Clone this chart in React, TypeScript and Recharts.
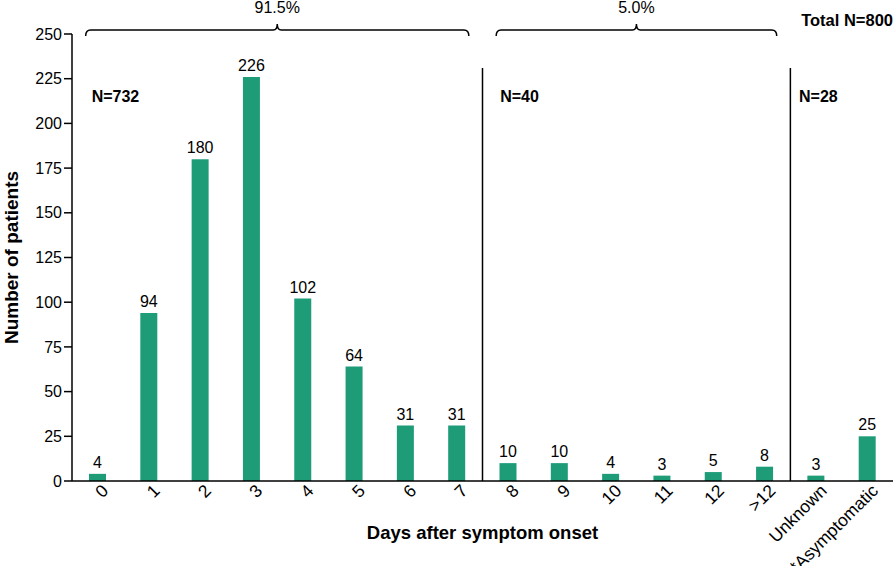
import React from 'react';
import { BarChart, Bar, XAxis, YAxis, LabelList, ReferenceLine, ReferenceDot } from 'recharts';

const CATEGORIES = ['0', '1', '2', '3', '4', '5', '6', '7', '8', '9', '10', '11', '12', '>12', 'Unknown', '*Asymptomatic'];
const PATIENTS = [4, 94, 180, 226, 102, 64, 31, 31, 10, 10, 4, 3, 5, 8, 3, 25];
const Y_TICKS = [0, 25, 50, 75, 100, 125, 150, 175, 200, 225, 250];

// group annotations
const GROUP_START = ['0', '8', 'Unknown'];
const GROUP_N = ['N=732', 'N=40', 'N=28'];
const SEPARATORS = ['8', 'Unknown'];
const BRACE_FROM = ['0', '8'];
const BRACE_TO = ['7', '>12'];
const BRACE_PCT = ['91.5%', '5.0%'];
const TOTAL_LABEL = 'Total N=800';

const data = CATEGORIES.map((day, i) => ({ day, patients: PATIENTS[i] }));

const FONT = '"Liberation Sans", Arial, Helvetica, sans-serif';
const GREEN = '#1e9c78';
const N_DX = [-6, -8, -17];

const XTick = (props: any) => {
  const { x, y, payload } = props;
  return (
    <g transform={`translate(${x + 3},${y - 6}) rotate(-45)`}>
      <text textAnchor="end" dy="0.71em" fontSize={17.5} fontFamily={FONT} fill="#000">
        {payload.value}
      </text>
    </g>
  );
};

const makeBrace = (pct: string) => (props: any) => {
  const { x1, y1, x2 } = props;
  const l = x1 - 12;
  const r = x2 + 12;
  const m = (l + r) / 2;
  const y = y1;
  const d = `M${l},${y + 6} Q${l},${y} ${l + 5},${y} L${m - 4},${y} Q${m},${y} ${m},${y - 6} Q${m},${y} ${m + 4},${y} L${r - 5},${y} Q${r},${y} ${r},${y + 6}`;
  return (
    <g>
      <path d={d} fill="none" stroke="#000" strokeWidth={1.5} />
      <text x={m} y={y - 17} textAnchor="middle" fontSize={16} fontFamily={FONT} fill="#000">
        {pct}
      </text>
    </g>
  );
};

const makeNLabel = (label: string, dx: number) => (props: any) => (
  <text x={props.cx + dx} y={props.cy} dy="0.36em" fontSize={16} fontWeight={700} fontFamily={FONT} fill="#000">
    {label}
  </text>
);

export default function App() {
  return (
    <div style={{ position: 'absolute', left: 0, top: 0, width: 894, height: 566, background: '#fff' }}>
      <BarChart width={894} height={566} data={data} margin={{ top: 34, right: 1, left: 0, bottom: 0 }}>
        <XAxis
          dataKey="day"
          height={85}
          tickLine={false}
          tick={<XTick />}
          interval={0}
          axisLine={{ stroke: '#000', strokeWidth: 1.5 }}
          label={{ value: 'Days after symptom onset', position: 'insideBottom', offset: 27, style: { fontFamily: FONT, fontSize: 18.5, fontWeight: 700, fill: '#000' } }}
        />
        <YAxis
          width={72}
          domain={[0, 250]}
          ticks={Y_TICKS}
          interval={0}
          tickSize={8}
          tickMargin={2}
          tick={{ fontSize: 16, fontFamily: FONT, fill: '#000' }}
          tickLine={{ stroke: '#000', strokeWidth: 1.5 }}
          axisLine={{ stroke: '#000', strokeWidth: 1.5 }}
          label={{ value: 'Number of patients', angle: -90, position: 'insideLeft', offset: 11, style: { textAnchor: 'middle', fontFamily: FONT, fontSize: 19, fontWeight: 700, fill: '#000' } }}
        />
        <Bar dataKey="patients" fill={GREEN} barSize={17} isAnimationActive={false}>
          <LabelList dataKey="patients" position="top" offset={6} style={{ fontFamily: FONT, fontSize: 16, fill: '#000' }} />
        </Bar>
        {SEPARATORS.map((s) => (
          <ReferenceLine
            key={s}
            segment={[{ x: s, y: 0 }, { x: s, y: 231 }]}
            position="start"
            stroke="#000"
            strokeWidth={1.5}
          />
        ))}
        {BRACE_FROM.map((from, i) => (
          <ReferenceLine
            key={from}
            segment={[{ x: from, y: 252.2 }, { x: BRACE_TO[i], y: 252.2 }]}
            ifOverflow="visible"
            shape={makeBrace(BRACE_PCT[i])}
          />
        ))}
        {GROUP_START.map((g, i) => (
          <ReferenceDot key={g} x={g} y={215} r={0} ifOverflow="visible" shape={makeNLabel(GROUP_N[i], N_DX[i])} />
        ))}
      </BarChart>
      <div style={{ position: 'absolute', right: 1, top: 11, fontFamily: FONT, fontSize: 16.5, fontWeight: 700, color: '#000' }}>
        {TOTAL_LABEL}
      </div>
    </div>
  );
}
